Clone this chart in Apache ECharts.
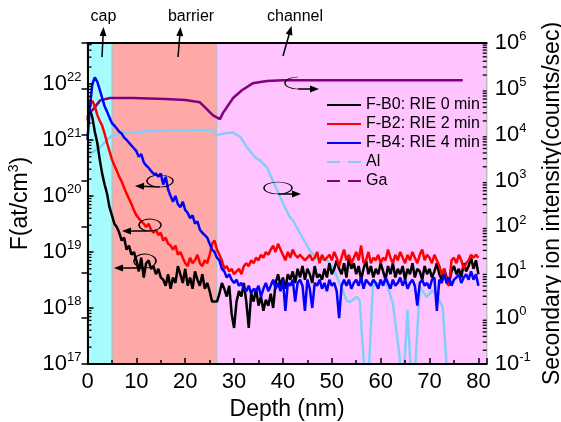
<!DOCTYPE html>
<html><head><meta charset="utf-8">
<script src="https://cdn.jsdelivr.net/npm/echarts@6/dist/echarts.min.js"></script>
<style>html,body{margin:0;padding:0;background:#fff}#c{width:561px;height:422px}</style>
</head><body><div id="c"></div>
<script>
const FONT = '"Liberation Sans", Arial, sans-serif';
const xMax = 81.7;
const xTickLabels = ['0','10','20','30','40','50','60','70','80'];

const depthF = [0,0.5,1,1.5,2,2.5,3,3.5,4,4.5,5,5.5,6,6.5,7,7.5,8,8.5,9,9.5,
10,10.5,11,11.5,12,12.5,13,13.5,14,14.5,15,15.5,16,16.5,17,17.5,18,18.5,19,19.5,
20,20.5,21,21.5,22,22.5,23,23.5,24,24.5,25,25.5,26,26.5,27,27.5,28,28.5,29,29.5,
30,30.5,31,31.5,32,32.5,33,33.5,34,34.5,35,35.5,36,36.5,37,37.5,38,38.5,39,39.5,
40,40.5,41,41.5,42,42.5,43,43.5,44,44.5,45,45.5,46,46.5,47,47.5,48,48.5,49,49.5,
50,50.5,51,51.5,52,52.5,53,53.5,54,54.5,55,55.5,56,56.5,57,57.5,58,58.5,59,59.5,
60,60.5,61,61.5,62,62.5,63,63.5,64,64.5,65,65.5,66,66.5,67,67.5,68,68.5,69,69.5,
70,70.5,71,71.5,72,72.5,73,73.5,74,74.5,75,75.5,76,76.5,77,77.5,78,78.5,79,79.5,80];

const fB0 = [2.5e21,3.5e21,2.5e21,1.4e21,8.9e20,4.5e20,2.5e20,1.6e20,1.1e20,6.3e19,4.5e19,3.2e19,2.8e19,2.2e19,1.6e19,1.8e19,1.1e19,1.3e19,8.9e18,1.0e19,
7.1e18,4.5e18,7.9e18,3.5e18,6.3e18,7.1e18,5.0e18,5.6e18,4.0e18,5.0e18,3.5e18,3.2e18,2.5e18,4.0e18,2.2e18,3.5e18,2.8e18,5.6e18,4.0e18,2.8e18,
5.0e18,2.5e18,3.5e18,2.2e18,4.5e18,3.2e18,2.5e18,4.0e18,2.2e18,2.8e18,2.0e18,1.3e18,1.3e18,1.3e18,1.8e18,2.8e18,2.2e18,1.6e18,2.5e18,7.9e17,
4.4e17,1.3e18,2.0e18,1.6e18,2.8e18,1.3e18,4.4e17,1.8e18,1.3e18,2.2e18,1.1e18,1.6e18,8.9e17,1.4e18,1.1e18,1.8e18,1.0e18,2.8e18,4.0e18,2.5e18,
3.5e18,2.2e18,4.0e18,3.2e18,4.5e18,2.8e18,5.0e18,3.5e18,5.6e18,3.2e18,5.0e18,4.0e18,2.8e18,5.6e18,3.5e18,4.0e18,3.2e18,5.0e18,3.5e18,6.3e18,
4.0e18,5.0e18,7.1e18,5.0e18,4.0e18,6.3e18,3.5e18,7.9e18,5.0e18,6.3e18,4.0e18,5.6e18,3.2e18,5.0e18,7.1e18,4.0e18,5.6e18,3.5e18,5.0e18,4.0e18,
6.3e18,4.5e18,3.2e18,5.6e18,4.0e18,6.3e18,3.5e18,5.0e18,4.0e18,5.6e18,3.2e18,5.0e18,4.0e18,6.3e18,3.5e18,5.0e18,4.5e18,3.2e18,5.6e18,4.0e18,
5.0e18,3.5e18,4.5e18,6.3e18,4.0e18,3.2e18,5.0e18,3.5e18,2.8e18,4.5e18,5.6e18,4.0e18,5.0e18,3.5e18,6.3e18,4.5e18,5.6e18,7.9e18,5.0e18,7.1e18,
4.0e18];

const fB2 = [2.2e21,4.0e21,5.0e21,4.0e21,2.8e21,2.2e21,1.8e21,1.3e21,8.9e20,6.3e20,4.5e20,3.5e20,2.8e20,2.2e20,1.8e20,1.4e20,1.1e20,8.9e19,7.1e19,5.6e19,
4.5e19,4.0e19,3.5e19,3.2e19,2.8e19,3.2e19,2.5e19,2.2e19,2.5e19,2.0e19,2.2e19,1.6e19,1.8e19,1.4e19,1.3e19,1.1e19,1.3e19,8.9e18,1.0e19,7.9e18,
6.3e18,5.6e18,7.9e18,6.3e18,7.1e18,8.9e18,6.3e18,5.6e18,7.1e18,6.3e18,8.9e18,1.4e19,1.6e19,1.1e19,8.9e18,7.1e18,5.0e18,5.6e18,4.5e18,5.0e18,
4.0e18,4.5e18,5.0e18,4.0e18,5.6e18,6.3e18,5.6e18,7.1e18,6.3e18,7.9e18,7.1e18,8.9e18,7.9e18,1.0e19,8.9e18,1.1e19,1.3e19,1.0e19,1.4e19,1.1e19,
8.9e18,7.1e18,1.0e19,7.9e18,1.1e19,8.9e18,7.9e18,8.9e18,7.9e18,7.1e18,7.9e18,8.9e18,7.1e18,7.9e18,1.0e19,6.3e18,8.9e18,7.1e18,7.9e18,8.9e18,
7.1e18,1.0e19,7.9e18,5.6e18,7.9e18,1.1e19,7.1e18,8.9e18,6.3e18,7.9e18,1.0e19,7.1e18,1.3e19,6.3e18,7.1e18,1.0e19,6.3e18,7.9e18,7.1e18,8.9e18,
6.3e18,7.9e18,7.1e18,1.1e19,7.9e18,6.3e18,8.9e18,7.1e18,1.0e19,7.9e18,6.3e18,8.9e18,7.1e18,1.0e19,7.9e18,6.3e18,8.9e18,1.1e19,7.1e18,8.9e18,
7.9e18,6.3e18,8.9e18,7.1e18,5.6e18,4.0e18,5.0e18,2.8e18,2.5e18,7.1e18,7.9e18,6.3e18,8.9e18,7.1e18,5.0e18,6.3e18,7.1e18,8.9e18,7.9e18,8.9e18,
7.9e18];

const fB4 = [1.0e21,4.0e21,1.0e22,1.3e22,1.1e22,7.9e21,5.6e21,4.0e21,3.2e21,2.5e21,2.0e21,1.8e21,1.6e21,1.4e21,1.3e21,1.1e21,1.0e21,8.9e20,7.9e20,7.1e20,
6.3e20,5.0e20,5.6e20,4.0e20,3.5e20,3.2e20,2.8e20,2.5e20,2.5e20,2.2e20,2.5e20,1.6e20,2.2e20,1.3e20,1.0e20,7.9e19,1.0e20,7.1e19,6.3e19,7.9e19,
5.6e19,5.0e19,4.0e19,4.5e19,3.2e19,3.5e19,2.5e19,2.2e19,2.0e19,1.8e19,1.4e19,1.1e19,1.0e19,7.9e18,7.1e18,5.0e18,4.5e18,3.5e18,4.0e18,3.2e18,
2.8e18,3.2e18,2.5e18,2.8e18,2.2e18,2.0e18,2.5e18,1.8e18,2.2e18,2.0e18,2.5e18,1.6e18,2.2e18,2.8e18,2.0e18,2.5e18,3.2e18,2.2e18,2.8e18,2.0e18,
3.2e18,8.9e17,2.8e18,2.5e18,3.2e18,1.3e18,2.8e18,3.2e18,2.5e18,8.9e17,3.2e18,2.2e18,1.0e18,2.8e18,2.5e18,3.2e18,2.2e18,2.8e18,2.0e18,3.2e18,
2.5e18,2.8e18,2.0e18,6.6e17,2.5e18,3.2e18,2.5e18,3.2e18,2.2e18,2.8e18,3.2e18,2.5e18,3.5e18,2.2e18,3.2e18,2.8e18,2.5e18,3.2e18,2.8e18,2.2e18,
3.2e18,2.5e18,3.5e18,2.8e18,2.2e18,3.2e18,2.5e18,2.8e18,3.5e18,2.5e18,3.2e18,2.2e18,2.8e18,3.2e18,2.5e18,1.1e18,2.8e18,3.2e18,2.5e18,2.8e18,
2.2e18,3.2e18,3.5e18,8.9e17,3.2e18,2.8e18,4.0e18,2.8e18,3.5e18,2.5e18,3.2e18,3.5e18,4.0e18,2.8e18,3.5e18,4.0e18,3.2e18,4.5e18,3.2e18,4.0e18,
2.5e18];

const alDepth = [0,0.5,2.6,4.6,6.6,9.3,12.8,16.9,23,25.5,26.5,28.1,29.8,31.3,32.6,34.3,35.3,36.7,38.8,40,41.4,42,43.5,45.5,46.9,49,50.2,52.2,53,53.7,55.1,55.7,57.2,58.4,59.2,61.2,62.5,63.9,64.3,65.5,66.6,68,69.4,70.7,72,72.7,74.1,78];
const alCounts = [3500,3800,5400,8900,10700,11200,12000,12300,12600,12600,9800,10700,11200,8900,5400,3200,2750,1950,620,320,160,138,71,30,20,18.6,12.9,4.1,2.45,2.24,2.9,2.45,0.01,4.8,5.75,5.75,2.1,0.14,0.01,1.5,0.01,4.8,2.9,4.1,2.45,1.74,0.01,0.01];

const gaDepth = [0.9,1.5,2.6,4.6,9.3,16,20,23,24,25.7,27.1,27.7,29.8,31.6,33.8,36.7,40,50,60,70,76.8];
const gaCounts = [33000,40000,56000,63000,63000,60000,57000,51000,40000,26300,21900,29500,63000,93300,132000,148000,155000,155000,155000,155000,155000];

const regionBounds = [0, 5.1, 26.4, xMax];
const regionNames = ['cap', 'barrier', 'channel'];

function pairs(xs, ys){ return xs.map((x,i)=>[x, ys[i]]); }

function supFmt(v){
  const l = Math.log10(v), r = Math.round(l);
  if (Math.abs(l - r) > 1e-6) return '';
  return '{b|10}{s|' + r + '}';
}
const supRich = {
  b: {fontSize: 22, lineHeight: 26, color: '#000', fontFamily: FONT},
  s: {fontSize: 13, lineHeight: 13, verticalAlign: 'top', color: '#000', fontFamily: FONT}
};

// minor tick marks (log 2..9) drawn through the axis scales
const leftMinor = [], rightMinor = [];
for (let d = 17; d <= 22; d++) for (let m = 2; m <= 9; m++) { const v = m * Math.pow(10, d); if (v < 5.37e22) leftMinor.push([0, v, 1]); }
for (let d = -1; d <= 5; d++) for (let m = 2; m <= 9; m++) rightMinor.push([xMax, m * Math.pow(10, d), -1]);
function minorRender(params, api){
  const p = api.coord([api.value(0), api.value(1)]);
  const s = api.value(2);
  return {type: 'line', shape: {x1: p[0], y1: p[1], x2: p[0] + s * 4, y2: p[1]}, style: {stroke: '#000', lineWidth: 1.3}};
}

// annotation helpers
function head(tx, ty, dx, dy){
  const len = Math.hypot(dx, dy), ux = dx/len, uy = dy/len, L = 9, W = 3.5;
  return {type: 'polygon', z: 100, shape: {points: [[tx, ty], [tx-ux*L-uy*W, ty-uy*L+ux*W], [tx-ux*L+uy*W, ty-uy*L-ux*W]]}, style: {fill: '#000'}};
}
function arrow(x1, y1, x2, y2){
  const dx = x2-x1, dy = y2-y1, len = Math.hypot(dx, dy);
  return [
    {type: 'line', z: 100, shape: {x1: x1, y1: y1, x2: x2 - dx/len*6, y2: y2 - dy/len*6}, style: {stroke: '#000', lineWidth: 1.5}},
    head(x2, y2, dx, dy)
  ];
}
function curl(cx, cy, rx, ry, tx, ty, left){
  const els = [];
  els.push({type: 'arc', z: 100, x: cx, y: cy, scaleY: ry/rx,
    shape: {cx: 0, cy: 0, r: rx, startAngle: left ? Math.PI*0.6 : Math.PI*0.5, endAngle: left ? Math.PI*2.5 : Math.PI*2.4, clockwise: true},
    style: {stroke: '#000', lineWidth: 1.5, fill: null, strokeNoScale: true}});
  return els.concat(arrow(cx, cy + ry, tx, ty));
}
function cArc(cx, cy, rx, ry, tx, ty){
  const els = [{type: 'arc', z: 100, x: cx, y: cy, scaleY: ry/rx,
    shape: {cx: 0, cy: 0, r: rx, startAngle: Math.PI*1.5, endAngle: Math.PI*0.5, clockwise: false},
    style: {stroke: '#000', lineWidth: 1.5, fill: null, strokeNoScale: true}}];
  return els.concat(arrow(cx, cy + ry, tx, ty));
}

const graphics = [].concat(
  [{type: 'text', z: 100, x: 103.5, y: 17, style: {text: regionNames[0], font: '16px ' + FONT, fill: '#000', textAlign: 'center', textVerticalAlign: 'middle'}},
   {type: 'text', z: 100, x: 191, y: 17, style: {text: regionNames[1], font: '16px ' + FONT, fill: '#000', textAlign: 'center', textVerticalAlign: 'middle'}},
   {type: 'text', z: 100, x: 295, y: 17, style: {text: regionNames[2], font: '16px ' + FONT, fill: '#000', textAlign: 'center', textVerticalAlign: 'middle'}}],
  arrow(102, 57, 103.5, 27),
  arrow(178, 57, 180.5, 27),
  arrow(283, 56, 291.5, 26),
  curl(160, 181, 13, 6, 135, 186, true),
  curl(150, 225, 11, 6, 122, 231, true),
  curl(145, 261, 11, 7, 114, 268, true),
  curl(278, 188, 14, 6, 301, 194, false),
  cArc(298, 83, 13, 6, 319, 89)
);

const chart = echarts.init(document.getElementById('c'), null, {renderer: 'canvas'});
const axisBlack = {color: '#000', width: 2};
chart.setOption({
  animation: false,
  backgroundColor: '#fff',
  textStyle: {fontFamily: FONT},
  grid: {left: 87.5, right: 74.3, top: 43, bottom: 58, outerBoundsMode: 'none'},
  legend: {
    orient: 'vertical', left: 326, top: 97, padding: 0, itemWidth: 34, itemHeight: 14, itemGap: 3,
    itemStyle: {opacity: 0},
    textStyle: {fontFamily: FONT, fontSize: 16, color: '#000'},
    data: [
      {name: 'F-B0: RIE 0 min'}, {name: 'F-B2: RIE 2 min'}, {name: 'F-B4: RIE 4 min'},
      {name: 'Al', lineStyle: {type: [13, 8], dashOffset: 0}}, {name: 'Ga', lineStyle: {type: [13, 8], dashOffset: 0}}
    ]
  },
  xAxis: [{
    type: 'value', min: 0, max: xMax, interval: 10, position: 'bottom', z: 10,
    axisLine: {lineStyle: axisBlack},
    axisTick: {inside: true, length: 6, lineStyle: {color: '#000', width: 1.5}},
    minorTick: {show: true, splitNumber: 2, length: 4, lineStyle: {color: '#000', width: 1.5}},
    axisLabel: {color: '#000', fontSize: 22, margin: 7, fontFamily: FONT,
      formatter: v => { const s = String(v); return xTickLabels.indexOf(s) >= 0 ? s : ''; }},
    splitLine: {show: false},
    name: 'Depth (nm)', nameLocation: 'middle', nameGap: 33,
    nameTextStyle: {color: '#000', fontSize: 23, fontFamily: FONT}
  }, {
    type: 'value', min: 0, max: xMax, position: 'top', z: 10,
    axisLine: {lineStyle: axisBlack}, axisTick: {show: false}, axisLabel: {show: false}, splitLine: {show: false}
  }],
  yAxis: [{
    type: 'log', min: 1e17, max: 5.37e22, splitNumber: 6, position: 'left', z: 10,
    axisLine: {show: true, lineStyle: axisBlack},
    axisTick: {inside: true, length: 6, lineStyle: {color: '#000', width: 1.5}},
    axisLabel: {formatter: supFmt, margin: 6, rich: supRich},
    splitLine: {show: false},
    name: '{n|F(at/cm}{s|3}{n|)}', nameLocation: 'middle', nameGap: 42, nameRotate: 90,
    nameTextStyle: {rich: {
      n: {fontSize: 23, lineHeight: 27, color: '#000', fontFamily: FONT},
      s: {fontSize: 14, lineHeight: 14, verticalAlign: 'top', color: '#000', fontFamily: FONT}}}
  }, {
    type: 'log', min: 0.1, max: 1e6, splitNumber: 7, position: 'right', z: 10,
    axisLine: {show: true, lineStyle: axisBlack},
    axisTick: {inside: true, length: 6, lineStyle: {color: '#000', width: 1.5}},
    axisLabel: {formatter: supFmt, margin: 8, rich: supRich},
    splitLine: {show: false},
    name: 'Secondary ion intensity(counts/sec)', nameLocation: 'middle', nameGap: 52, nameRotate: 90,
    nameTextStyle: {color: '#000', fontSize: 23, fontFamily: FONT}
  }],
  graphic: graphics,
  series: [
    {name: 'bg', type: 'line', data: [[1, 1e18]], symbol: 'none', lineStyle: {opacity: 0}, z: 1, silent: true,
      markArea: {silent: true, data: [
        [{xAxis: regionBounds[0], itemStyle: {color: '#a6fcfc', borderColor: '#bdbdbd', borderWidth: 1.5}}, {xAxis: regionBounds[1]}],
        [{xAxis: regionBounds[1], itemStyle: {color: '#ffa8a8', borderColor: '#bdbdbd', borderWidth: 1.5}}, {xAxis: regionBounds[2]}],
        [{xAxis: regionBounds[2], itemStyle: {color: '#ffc4ff', borderColor: '#bdbdbd', borderWidth: 1.5}}, {xAxis: regionBounds[3]}]
      ]}},
    {name: 'Al', type: 'line', yAxisIndex: 1, data: pairs(alDepth, alCounts), symbol: 'none', clip: true, z: 3,
      lineStyle: {color: '#85cdf9', width: 2.5}, itemStyle: {color: '#85cdf9'}},
    {name: 'Ga', type: 'line', yAxisIndex: 1, data: pairs(gaDepth, gaCounts), symbol: 'none', clip: true, z: 3,
      lineStyle: {color: '#800080', width: 2.5}, itemStyle: {color: '#800080'}},
    {name: 'F-B0: RIE 0 min', type: 'line', data: pairs(depthF, fB0), symbol: 'none', clip: true, z: 4,
      lineStyle: {color: '#000000', width: 2.5}, itemStyle: {color: '#000000'}},
    {name: 'F-B2: RIE 2 min', type: 'line', data: pairs(depthF, fB2), symbol: 'none', clip: true, z: 5,
      lineStyle: {color: '#ff0000', width: 2.5}, itemStyle: {color: '#ff0000'}},
    {name: 'F-B4: RIE 4 min', type: 'line', data: pairs(depthF, fB4), symbol: 'none', clip: true, z: 6,
      lineStyle: {color: '#0000ff', width: 2.5}, itemStyle: {color: '#0000ff'}},
    {name: 'minorL', type: 'custom', yAxisIndex: 0, data: leftMinor, renderItem: minorRender, z: 9, silent: true},
    {name: 'minorR', type: 'custom', yAxisIndex: 1, data: rightMinor, renderItem: minorRender, z: 9, silent: true}
  ]
});
</script></body></html>
